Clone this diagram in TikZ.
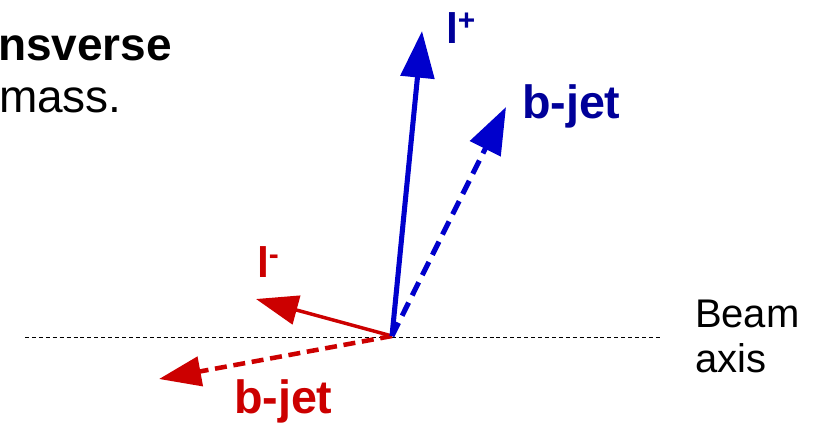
\documentclass[tikz,border=0pt]{standalone}
\usepackage{fontspec}
\setmainfont{Liberation Sans}
\usetikzlibrary{arrows.meta}
\definecolor{arrblue}{HTML}{0000CC}
\definecolor{lblblue}{HTML}{000099}
\definecolor{arrred}{HTML}{CC0000}
\tikzset{
  lbl/.style={anchor=base west,inner sep=0pt,outer sep=0pt},
  bluehead/.style={-{Triangle[length=35pt,width=25pt]}},
  redhead/.style={-{Triangle[length=31.5pt,width=22pt]}},
  beam/.style={draw=black,line width=0.7pt,dash pattern=on 3pt off 2.2pt},
  bluevec/.style={draw=arrblue,line width=3.8pt,bluehead},
  bluejet/.style={draw=arrblue,line width=3.8pt,bluehead,dash pattern=on 11pt off 6pt},
  redvec/.style={draw=arrred,line width=2.6pt,redhead},
  redjet/.style={draw=arrred,line width=3.4pt,redhead,dash pattern=on 9pt off 5pt},
}
\begin{document}
\begin{tikzpicture}[x=0.75pt,y=-0.75pt]
\useasboundingbox (0,0) rectangle (816,433);
% beam axis
\coordinate (axL) at (25,337);
\coordinate (axR) at (660,337);
\draw[beam] (axL) -- (axR);
% origin and vector ends
\coordinate (o) at (392,336);
\coordinate (lp) at (422,31);
\coordinate (bjp) at (506,107);
\coordinate (lm) at (256,299);
\coordinate (bjm) at (159,379);
% vectors
\draw[redjet] (o) -- (bjm);
\draw[redvec] (o) -- (lm);
\draw[bluejet] (o) -- (bjp);
\draw[bluevec] (o) -- (lp);
% labels
\node[lbl,font=\bfseries\fontsize{32pt}{36pt}\selectfont,text=lblblue] (tlp) at (446,43) {l\textsuperscript{+}};
\node[lbl,font=\bfseries\fontsize{35pt}{40pt}\selectfont,text=lblblue] (tbjp) at (522,118) {b-jet};
\node[lbl,font=\bfseries\fontsize{32pt}{36pt}\selectfont,text=arrred] (tlm) at (257,277) {l\textsuperscript{-}};
\node[lbl,font=\bfseries\fontsize{35pt}{40pt}\selectfont,text=arrred] (tbjm) at (234,413) {b-jet};
\node[lbl,font=\fontsize{30pt}{34pt}\selectfont] (beam1) at (695,327) {Beam};
\node[lbl,font=\fontsize{30pt}{34pt}\selectfont] (beam2) at (695,372) {axis};
% top-left text
\node[lbl,font=\bfseries\fontsize{34.5pt}{39pt}\selectfont] (t1) at (-2,60) {nsverse};
\node[lbl,font=\fontsize{34.5pt}{39pt}\selectfont] (t2) at (-1,112) {mass.};
\end{tikzpicture}
\end{document}
